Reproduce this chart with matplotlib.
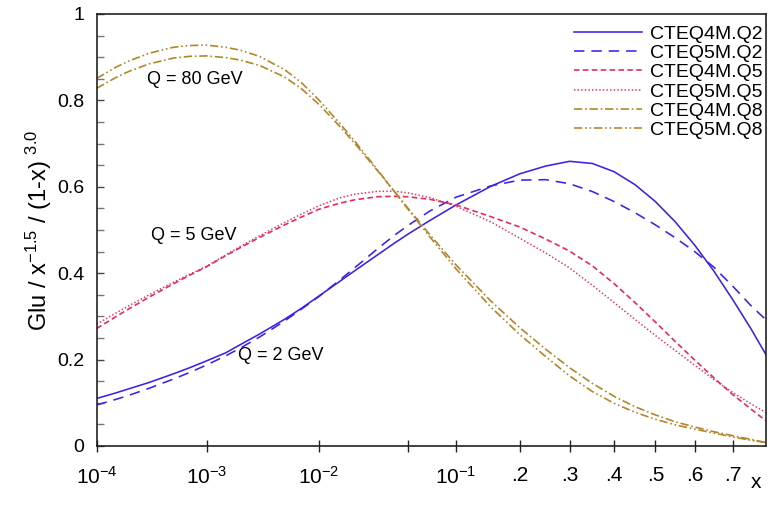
import numpy as np
import matplotlib
matplotlib.use("Agg")
import matplotlib.pyplot as plt
from matplotlib.ticker import FixedLocator, FixedFormatter, MultipleLocator

plt.rcParams['font.family'] = ['Liberation Sans', 'DejaVu Sans']
plt.rcParams['mathtext.fontset'] = 'custom'
plt.rcParams['mathtext.rm'] = 'Liberation Sans'
plt.rcParams['mathtext.it'] = 'Liberation Sans'
plt.rcParams['mathtext.bf'] = 'Liberation Sans:bold'
plt.rcParams['lines.scale_dashes'] = False

# ---------------- data ----------------
x_vals = [1e-4, 1.5e-4, 2e-4, 3e-4, 5e-4, 7e-4, 1e-3, 1.5e-3, 2e-3, 3e-3, 5e-3, 7e-3,
          1e-2, 1.5e-2, 2e-2, 3e-2, 4e-2, 5e-2, 7e-2, 0.1, 0.15, 0.2, 0.25, 0.3, 0.35,
          0.4, 0.45, 0.5, 0.55, 0.6, 0.65, 0.7, 0.75, 0.79]

cteq4m_q2 = [0.110, 0.123, 0.133, 0.147, 0.167, 0.181, 0.197, 0.216, 0.234, 0.259, 0.293, 0.318,
             0.347, 0.381, 0.406, 0.442, 0.469, 0.490, 0.522, 0.558, 0.601, 0.630, 0.648, 0.659, 0.654,
             0.635, 0.605, 0.566, 0.519, 0.465, 0.405, 0.339, 0.270, 0.211]
cteq5m_q2 = [0.095, 0.108, 0.118, 0.1335, 0.155, 0.170, 0.1875, 0.209, 0.226, 0.252, 0.289, 0.316,
             0.346, 0.384, 0.413, 0.456, 0.487, 0.510, 0.544, 0.576, 0.602, 0.6155, 0.6165, 0.607, 0.589,
             0.566, 0.540, 0.512, 0.482, 0.450, 0.414, 0.370, 0.324, 0.292]
cteq4m_q5 = [0.272, 0.2996, 0.3186, 0.3445, 0.3755, 0.3951, 0.415, 0.4409, 0.4586, 0.4827, 0.5115, 0.5296,
             0.548, 0.562, 0.570, 0.577, 0.578, 0.577, 0.571, 0.558, 0.531, 0.507, 0.479, 0.451, 0.417,
             0.376, 0.332, 0.287, 0.242, 0.199, 0.158, 0.119, 0.085, 0.058]
cteq5m_q5 = [0.282, 0.3079, 0.3257, 0.3499, 0.3790, 0.3973, 0.416, 0.4428, 0.4613, 0.4865, 0.5170, 0.5363,
             0.556, 0.5743, 0.583, 0.5894, 0.5897, 0.586, 0.575, 0.555, 0.519, 0.481, 0.447, 0.412, 0.372,
             0.332, 0.293, 0.256, 0.221, 0.187, 0.154, 0.124, 0.097, 0.077]
cteq4m_q8 = [0.828, 0.8532, 0.868, 0.8845, 0.898, 0.902, 0.903, 0.899, 0.8935, 0.881, 0.8545, 0.828,
             0.791, 0.740, 0.700, 0.638, 0.590, 0.551, 0.489, 0.419, 0.336, 0.274, 0.224, 0.181, 0.145,
             0.115, 0.091, 0.072, 0.056, 0.044, 0.033, 0.024, 0.015, 0.008]
cteq5m_q8 = [0.851, 0.877, 0.892, 0.909, 0.923, 0.927, 0.928, 0.9228, 0.9165, 0.902, 0.8715, 0.842,
             0.801, 0.747, 0.705, 0.640, 0.590, 0.549, 0.484, 0.410, 0.322, 0.258, 0.207, 0.162, 0.126,
             0.099, 0.078, 0.062, 0.049, 0.039, 0.030, 0.021, 0.013, 0.008]

series_labels = ['CTEQ4M.Q2', 'CTEQ5M.Q2', 'CTEQ4M.Q5', 'CTEQ5M.Q5', 'CTEQ4M.Q8', 'CTEQ5M.Q8']

x_tick_values = [1e-4, 1e-3, 1e-2, 0.05, 0.1, 0.2, 0.3, 0.4, 0.5, 0.6, 0.7]
x_tick_labels = [r'$10^{-4}$', r'$10^{-3}$', r'$10^{-2}$', '', r'$10^{-1}$', '.2', '.3', '.4', '.5', '.6', '.7']
y_tick_values = [0, 0.2, 0.4, 0.6, 0.8, 1.0]
y_tick_labels = ['0', '0.2', '0.4', '0.6', '0.8', '1']

# ---------------- scale: log10(x) + c*x ----------------
C = 2.8
_grid = np.logspace(-7, 0.3, 20000)
_fgrid = np.log10(_grid) + C * _grid

def fwd(x):
    x = np.asarray(x, dtype=float)
    xs = np.clip(x, 1e-12, None)
    return np.log10(xs) + C * xs

def inv(f):
    f = np.asarray(f, dtype=float)
    return np.interp(f, _fgrid, _grid)

W, H = 778, 519
fig = plt.figure(figsize=(W / 100, H / 100), dpi=100)
left, right, top, bottom = 96.7, 765.7, 14, 446
ax = fig.add_axes([left / W, (H - bottom) / H, (right - left) / W, (bottom - top) / H])
ax.set_xscale('function', functions=(fwd, inv))

blue = '#3a22e8'
red = '#e82a5a'
gold = '#b2862c'

styles = [
    dict(color=blue, lw=1.15, linestyle='-'),
    dict(color=blue, lw=1.15, linestyle=(0, (7.5, 5.0))),
    dict(color=red, lw=1.2, linestyle=(0, (4.0, 2.4))),
    dict(color=red, lw=1.1, linestyle=(0, (1.0, 1.6))),
    dict(color=gold, lw=1.2, linestyle=(0, (6.0, 2.0, 1.2, 2.0))),
    dict(color=gold, lw=1.2, linestyle=(0, (6.0, 2.0, 1.2, 2.0, 1.2, 2.0))),
]
series = [cteq4m_q2, cteq5m_q2, cteq4m_q5, cteq5m_q5, cteq4m_q8, cteq5m_q8]
for ys, lab, st in zip(series, series_labels, styles):
    ax.plot(x_vals, ys, label=lab, **st)

ax.set_xlim(1e-4, 0.789)
ax.set_ylim(0, 1)

ax.xaxis.set_major_locator(FixedLocator(x_tick_values))
ax.xaxis.set_major_formatter(FixedFormatter(x_tick_labels))
ax.xaxis.set_minor_locator(FixedLocator([]))
ax.yaxis.set_major_locator(FixedLocator(y_tick_values))
ax.yaxis.set_major_formatter(FixedFormatter(y_tick_labels))
ax.yaxis.set_minor_locator(MultipleLocator(0.05))

ax.tick_params(axis='x', which='major', direction='inout', length=9, width=1.0,
               labelsize=15, pad=10, color='#222222')
ax.tick_params(axis='y', which='major', direction='in', length=5, width=1.0,
               labelsize=14, pad=9, color='#444444')
ax.tick_params(axis='y', which='minor', direction='in', length=5, width=1.0, color='#777777')

for sp in ax.spines.values():
    sp.set_linewidth(1.2)
    sp.set_color('#222222')

ax.set_ylabel(r'Glu / x$^{-1.5}$ / (1-x) $^{3.0}$', fontsize=17)
ax.yaxis.set_label_coords((54 - left) / (right - left), 0.5)

leg = ax.legend(loc='upper right', bbox_to_anchor=(763 / W, 1 - 25 / H),
                bbox_transform=fig.transFigure, frameon=False, fontsize=14,
                handlelength=3.5, handletextpad=0.45, labelspacing=0.087,
                borderpad=0, borderaxespad=0)

def ftext(px, py, s, size=13):
    fig.text(px / W, 1 - py / H, s, fontsize=size, va='center', ha='left')

ftext(147, 80, 'Q = 80 GeV')
ftext(151, 236, 'Q = 5 GeV')
ftext(238, 355, 'Q = 2 GeV')
ftext(751, 482, 'x', size=15)

fig.savefig('out.png', dpi=100)
